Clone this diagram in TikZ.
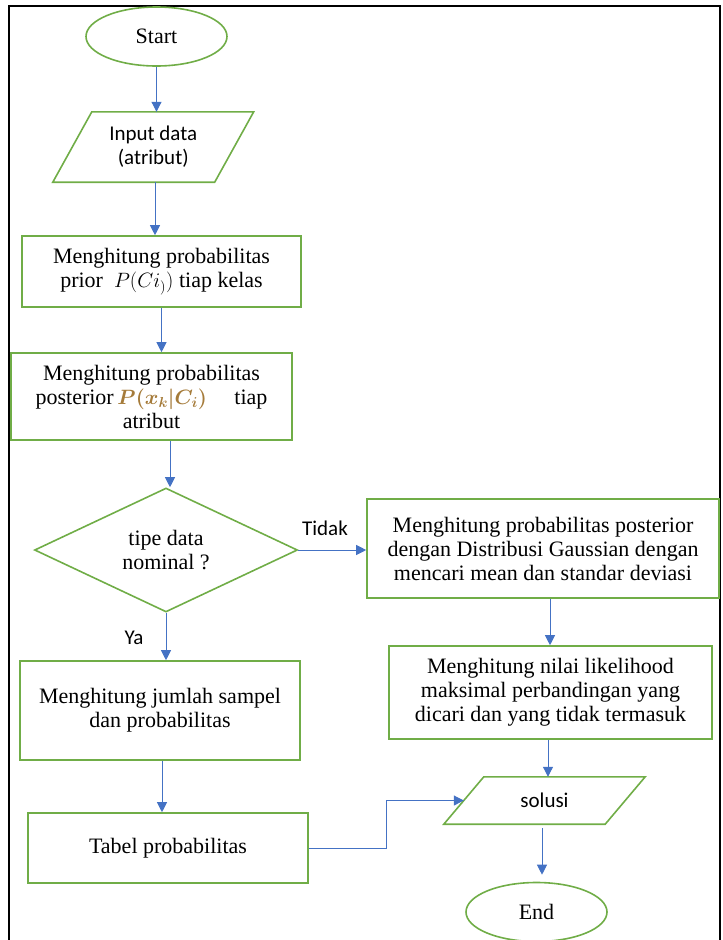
\documentclass[tikz,border=0pt]{standalone}
\usepackage{fontspec}
\setmainfont{Liberation Serif}
\newfontfamily\labelfont{Carlito}
\usetikzlibrary{shapes.geometric,arrows.meta,calc}
\definecolor{boxgreen}{HTML}{70AD47}
\definecolor{arrowblue}{HTML}{4472C4}
\definecolor{mathgold}{HTML}{A57B3A}

\begin{document}
\begin{tikzpicture}[x=1pt,y=-1pt,
  shapeline/.style={draw=boxgreen,line width=1.6pt},
  bodytext/.style={font=\fontsize{22}{24}\selectfont},
  sanstext/.style={font=\labelfont\fontsize{21}{24}\selectfont},
  procbox/.style={shapeline,rectangle,inner sep=0pt,align=center,bodytext},
  terminal/.style={shapeline,ellipse,inner sep=0pt,minimum width=141pt,minimum height=59pt,bodytext},
  decision/.style={shapeline,diamond,aspect=2.12,inner sep=0pt,minimum width=263pt,minimum height=124pt,align=center,bodytext},
  iobody/.style={rectangle,inner sep=0pt,align=center,sanstext},
  arr/.style={draw=arrowblue,line width=1pt,-{Triangle[length=10pt,width=10pt]}}
]
\useasboundingbox (0,0) rectangle (723,940);

% outer frame
\draw[line width=1.6pt] (9,948) -- (9,6) -- (720,6) -- (720,948);

% nodes
\node[terminal] (start) at (156.5,36.5) {Start};
\node[iobody,minimum width=161.5pt,minimum height=70pt] (inp) at (153.25,147) {Input data\\(atribut)};
\node[procbox,minimum width=279pt,minimum height=71pt] (prior) at (161.5,271.5)
  {Menghitung probabilitas\\prior \ $P(Ci_{)})$ tiap kelas};
\node[procbox,minimum width=281pt,minimum height=87pt] (post) at (151.5,396.5)
  {Menghitung probabilitas\\posterior\,{\color{mathgold}\boldmath$P(x_k|C_i)$}\quad\ tiap\\atribut};
\node[decision] (dia) at (166,550) {tipe data\\nominal ?};
\node[procbox,minimum width=352pt,minimum height=99pt] (gauss) at (543,548.5)
  {Menghitung probabilitas posterior\\dengan Distribusi Gaussian dengan\\mencari mean dan standar deviasi};
\node[procbox,minimum width=323pt,minimum height=93pt] (like) at (550.5,692.5)
  {Menghitung nilai likelihood\\maksimal perbandingan yang\\dicari dan yang tidak termasuk};
\node[procbox,minimum width=280pt,minimum height=99pt] (jumlah) at (160,710.5)
  {Menghitung jumlah sampel\\dan probabilitas};
\node[procbox,minimum width=280pt,minimum height=70pt] (tabel) at (168,848) {Tabel probabilitas};
\node[iobody,minimum width=161pt,minimum height=47pt] (sol) at (544.5,800.5) {solusi};
\node[terminal] (stop) at (536.5,912) {End};

% parallelogram outlines for the input/output nodes
\draw[shapeline] ([xshift=19.5pt]inp.north west) -- ([xshift=19.5pt]inp.north east)
  -- ([xshift=-19.5pt]inp.south east) -- ([xshift=-19.5pt]inp.south west) -- cycle;
\draw[shapeline] ([xshift=20pt]sol.north west) -- ([xshift=20pt]sol.north east)
  -- ([xshift=-20pt]sol.south east) -- ([xshift=-20pt]sol.south west) -- cycle;

% branch labels
\node[sanstext] (tidak) at (325,528) {Tidak};
\node[sanstext] (ya) at (134,638) {Ya};

% connectors
\coordinate (bend) at (386,848);
\draw[arr] (start.south) -- (start.south |- inp.north);
\draw[arr] ([xshift=1.75pt]inp.south) -- ([xshift=1.75pt]inp.south |- prior.north);
\draw[arr] (prior.south) -- (prior.south |- post.north);
\draw[arr] ([xshift=18.5pt]post.south) -- ([xshift=18.5pt]post.south |- dia.north);
\draw[arr] (dia.east) -- (dia.east -| gauss.west);
\draw[arr] (dia.south) -- (dia.south |- jumlah.north);
\draw[arr] ([xshift=2pt]jumlah.south) -- ([xshift=2pt]jumlah.south |- tabel.north);
\draw[arr] (tabel.east) -- (bend) |- (sol.west);
\draw[arr] ([xshift=7pt]gauss.south) -- ([xshift=7pt]gauss.south |- like.north);
\draw[arr] ([xshift=-2.5pt]like.south) -- ([xshift=-2.5pt]like.south |- sol.north);
\draw[arr,shorten <=4pt,shorten >=7pt] ([xshift=-2.5pt]sol.south) -- ([xshift=-2.5pt]sol.south |- stop.north);
\end{tikzpicture}
\end{document}
